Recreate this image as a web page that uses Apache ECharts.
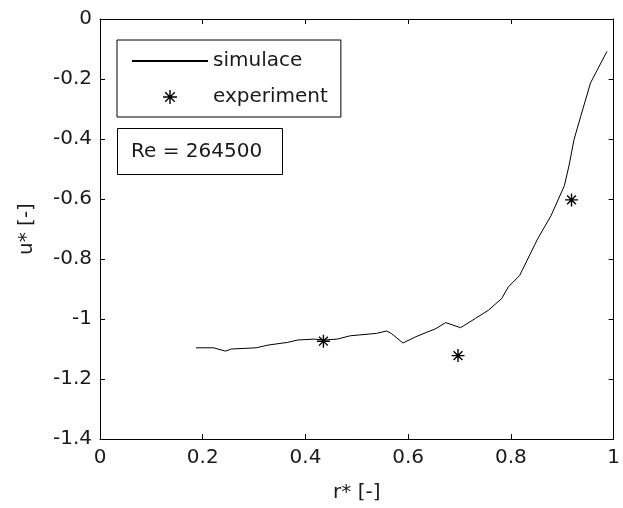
<!DOCTYPE html>
<html>
<head>
<meta charset="utf-8">
<script src="https://cdn.jsdelivr.net/npm/echarts@6/dist/echarts.min.js"></script>
<style>
html,body{margin:0;padding:0;background:#fff;}
#chart{width:623px;height:508px;}
</style>
</head>
<body>
<div id="chart"></div>
<script>
// Simulation (line)
var simR = [0.187,0.221,0.244,0.256,0.304,0.327,0.365,0.385,0.417,0.436,0.462,0.487,0.538,0.558,0.567,0.590,0.615,0.654,0.673,0.702,0.731,0.756,0.782,0.795,0.817,0.852,0.878,0.904,0.913,0.923,0.936,0.955,0.965,0.987];
var simU = [-1.096,-1.096,-1.107,-1.100,-1.096,-1.087,-1.078,-1.070,-1.067,-1.070,-1.067,-1.056,-1.048,-1.040,-1.048,-1.080,-1.059,-1.032,-1.012,-1.029,-0.998,-0.971,-0.932,-0.893,-0.855,-0.733,-0.656,-0.556,-0.490,-0.401,-0.324,-0.213,-0.180,-0.108];
// Experiment (stars)
var expR = [0.435, 0.697, 0.918];
var expU = [-1.074, -1.122, -0.603];
var seriesNames = ['simulace', 'experiment'];
var annotation = 'Re = 264500';
var xTitle = 'r* [-]';
var yTitle = 'u* [-]';

var FONT = 'DejaVu Sans';
var TXT = '#1a1a1a';
var STAR = 'path://M5,0L5,10M0,5L10,5M1.6,1.6L8.4,8.4M1.6,8.4L8.4,1.6';

function zip(a, b) { return a.map(function (v, i) { return [v, b[i]]; }); }

var chart = echarts.init(document.getElementById('chart'), null, {renderer: 'canvas'});
var axisLine = {show: true, onZero: false, lineStyle: {color: '#000', width: 1}};
var axisTick = {show: true, inside: true, length: 5, lineStyle: {color: '#000', width: 1}};

chart.setOption({
  backgroundColor: '#fff',
  animation: false,
  title: {
    text: annotation,
    left: 117, top: 128,
    padding: [12, 21, 12, 14],
    borderColor: '#000', borderWidth: 1,
    textStyle: {color: TXT, fontFamily: FONT, fontSize: 20, fontWeight: 'normal', lineHeight: 23}
  },
  legend: {
    orient: 'vertical',
    left: 117, top: 40,
    padding: [11, 13, 10, 14],
    itemGap: 16,
    itemWidth: 76, itemHeight: 14,
    borderColor: '#000', borderWidth: 1,
    backgroundColor: '#fff',
    textStyle: {color: TXT, fontFamily: FONT, fontSize: 20},
    data: [
      {name: seriesNames[0], itemStyle: {opacity: 0}},
      {name: seriesNames[1], icon: STAR, itemStyle: {color: '#000', borderColor: '#000', borderWidth: 1.4}}
    ]
  },
  grid: {left: 100, top: 19, width: 521, height: 423, containLabel: false},
  xAxis: [{
    type: 'value', min: 0, max: 1, interval: 0.2, position: 'bottom',
    name: xTitle, nameLocation: 'middle', nameGap: 44,
    nameTextStyle: {color: TXT, fontFamily: FONT, fontSize: 20},
    axisLine: axisLine, axisTick: axisTick,
    axisLabel: {show: true, margin: 9, color: TXT, fontFamily: FONT, fontSize: 20},
    splitLine: {show: false}
  }, {
    type: 'value', min: 0, max: 1, interval: 0.2, position: 'top',
    axisLine: axisLine, axisTick: axisTick, axisLabel: {show: false}, splitLine: {show: false}
  }],
  yAxis: [{
    type: 'value', min: -1.4, max: 0, interval: 0.2, position: 'left',
    name: yTitle, nameLocation: 'middle', nameGap: 63,
    nameTextStyle: {color: TXT, fontFamily: FONT, fontSize: 20},
    axisLine: axisLine, axisTick: axisTick,
    axisLabel: {show: true, margin: 8, color: TXT, fontFamily: FONT, fontSize: 20},
    splitLine: {show: false}
  }, {
    type: 'value', min: -1.4, max: 0, interval: 0.2, position: 'right',
    axisLine: axisLine, axisTick: axisTick, axisLabel: {show: false}, splitLine: {show: false}
  }],
  series: [{
    name: seriesNames[0],
    type: 'line',
    data: zip(simR, simU),
    symbol: 'none',
    lineStyle: {color: '#000', width: 1},
    itemStyle: {color: '#000'},
    z: 2
  }, {
    name: seriesNames[1],
    type: 'scatter',
    data: zip(expR, expU),
    symbol: STAR,
    symbolSize: 13,
    itemStyle: {color: '#000', borderColor: '#000', borderWidth: 1.4, opacity: 1},
    z: 3
  }]
});
</script>
</body>
</html>
